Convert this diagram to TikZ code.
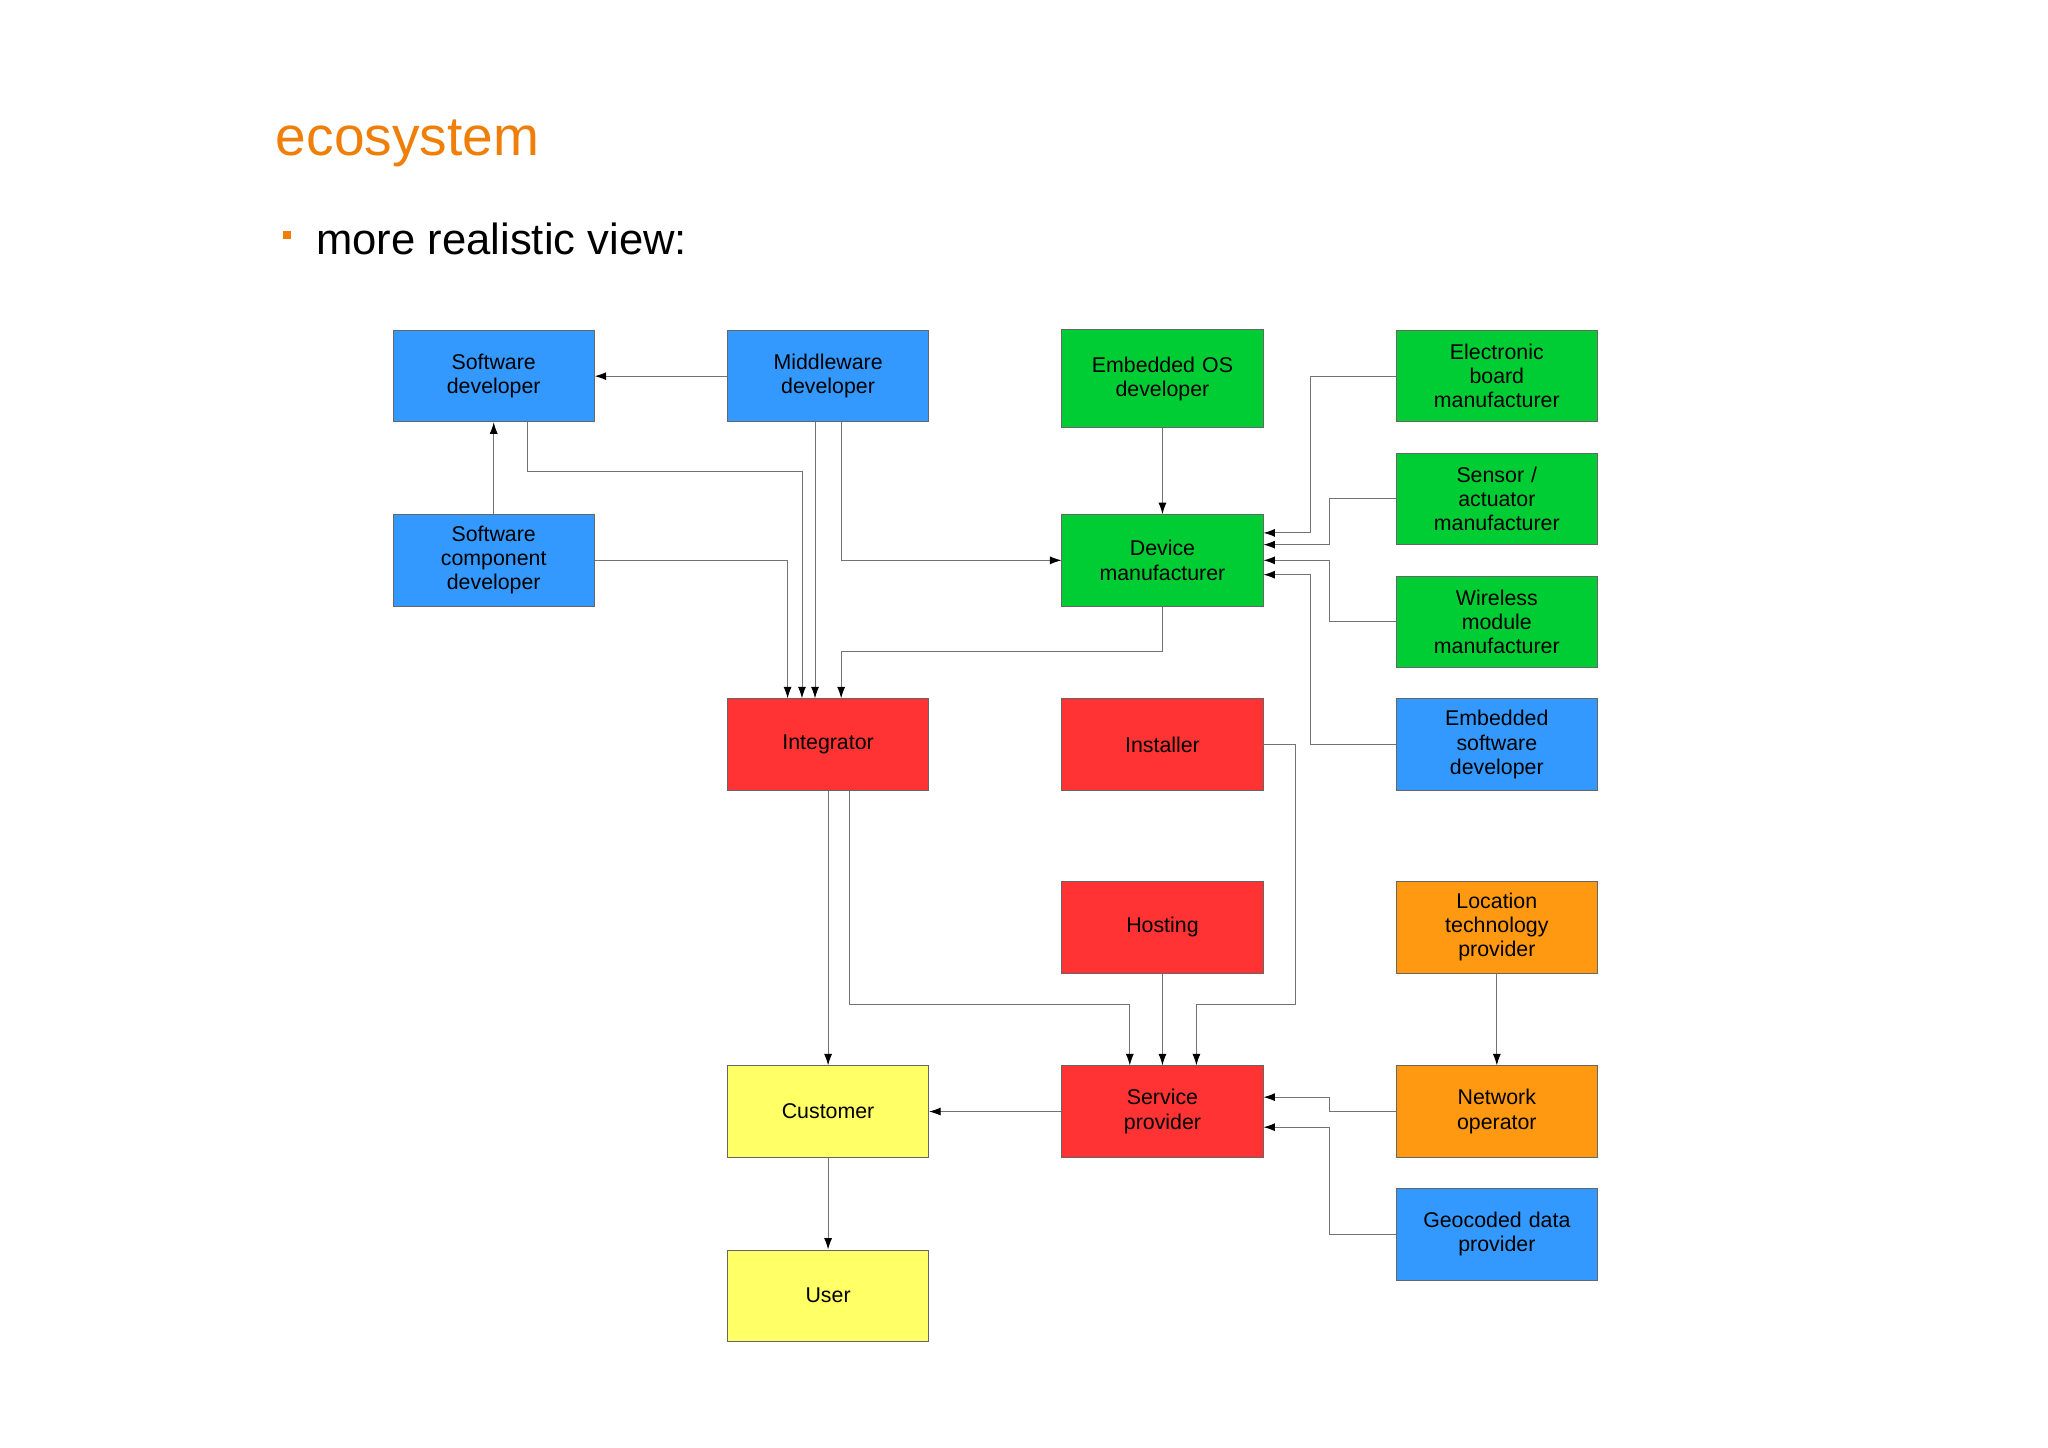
\documentclass[tikz,border=0pt]{standalone}
\usepackage{fontspec}
\setmainfont{Liberation Sans}
\usetikzlibrary{calc,arrows.meta}
\definecolor{cblue}{HTML}{3399FF}
\definecolor{cgreen}{HTML}{00CC33}
\definecolor{cred}{HTML}{FF3333}
\definecolor{cyel}{HTML}{FFFF66}
\definecolor{corg}{HTML}{FF9911}
\definecolor{ttl}{HTML}{F07F09}
\begin{document}
\begin{tikzpicture}[x=0.02cm,y=-0.02cm,
 bx/.style={draw=black!60,line width=0.4pt,minimum width=154*0.02cm,minimum height=70*0.02cm,text width=140*0.02cm,align=center,font=\fontsize{9.3}{10.5}\selectfont,inner sep=0pt},
 ar/.style={draw=black!55,line width=0.4pt,-{Latex[length=5pt,width=3.5pt,black]}}]
\useasboundingbox[fill=white] (0,0) rectangle (1568,1108);
\node[anchor=west,text=ttl,font=\fontsize{24}{28}\selectfont] (title) at (205,110) {ecosystem};
\node[fill=ttl,minimum size=6*0.02cm,inner sep=0pt] (bul) at (220,180) {};
\node[anchor=west,font=\fontsize{19}{22}\selectfont] (sub) at (236,183) {more realistic view:};
% column 1
\node[bx,fill=cblue] (swd) at (378,288) {Software\\developer};
\node[bx,fill=cblue] (swc) at (378,429) {Software\\component\\developer};
% column 2
\node[bx,fill=cblue] (mid) at (634,288) {Middleware\\developer};
\node[bx,fill=cred] (int) at (634,570) {Integrator};
\node[bx,fill=cyel] (cus) at (634,851) {Customer};
\node[bx,fill=cyel] (usr) at (634,992) {User};
% column 3
\node[bx,fill=cgreen,minimum height=75*0.02cm] (eos) at (890,290) {Embedded OS\\developer};
\node[bx,fill=cgreen] (dev) at (890,429) {Device\\manufacturer};
\node[bx,fill=cred] (ins) at (890,570) {Installer};
\node[bx,fill=cred] (hos) at (890,710) {Hosting};
\node[bx,fill=cred] (ser) at (890,851) {Service\\provider};
% column 4
\node[bx,fill=cgreen] (ebm) at (1146,288) {Electronic\\board\\manufacturer};
\node[bx,fill=cgreen] (sam) at (1146,382) {Sensor /\\actuator\\manufacturer};
\node[bx,fill=cgreen] (wmm) at (1146,476) {Wireless\\module\\manufacturer};
\node[bx,fill=cblue] (esd) at (1146,570) {Embedded\\software\\developer};
\node[bx,fill=corg] (loc) at (1146,710) {Location\\technology\\provider};
\node[bx,fill=corg] (net) at (1146,851) {Network\\operator};
\node[bx,fill=cblue] (geo) at (1146,945) {Geocoded data\\provider};
% edges
\draw[ar] (mid.west) -- (swd.east);
\draw[ar] (swc.north) -- (swd.south);
\draw[ar] ($(swd.south)+(26,0)$) |- (614,361) -- ($(int.north)+(-20,0)$);
\draw[ar] (swc.east) -| ($(int.north)+(-31,0)$);
\draw[ar] ($(mid.south)+(-10,0)$) -- ($(int.north)+(-10,0)$);
\draw[ar] ($(mid.south)+(10,0)$) |- (dev.west);
\draw[ar] (eos.south) -- (dev.north);
\draw[ar] (dev.south) |- (644,499) -- ($(int.north)+(10,0)$);
\draw[ar] (ebm.west) -| (1003,408) -- ($(dev.east)+(0,-21)$);
\draw[ar] (sam.west) -| (1018,417) -- ($(dev.east)+(0,-12)$);
\draw[ar] (wmm.west) -| (1018,429) -- (dev.east);
\draw[ar] (esd.west) -| (1003,440) -- ($(dev.east)+(0,11)$);
\draw[ar] (int.south) -- (cus.north);
\draw[ar] ($(int.south)+(16,0)$) |- (865,769) -- ($(ser.north)+(-25,0)$);
\draw[ar] (hos.south) -- (ser.north);
\draw[ar] (ins.east) -| (992,769) -| ($(ser.north)+(26,0)$);
\draw[ar] (ser.west) -- (cus.east);
\draw[ar] (cus.south) -- (usr.north);
\draw[ar] (loc.south) -- (net.north);
\draw[ar] (net.west) -| (1018,840) -- ($(ser.east)+(0,-11)$);
\draw[ar] (geo.west) -| (1018,863) -- ($(ser.east)+(0,12)$);
\end{tikzpicture}
\end{document}
